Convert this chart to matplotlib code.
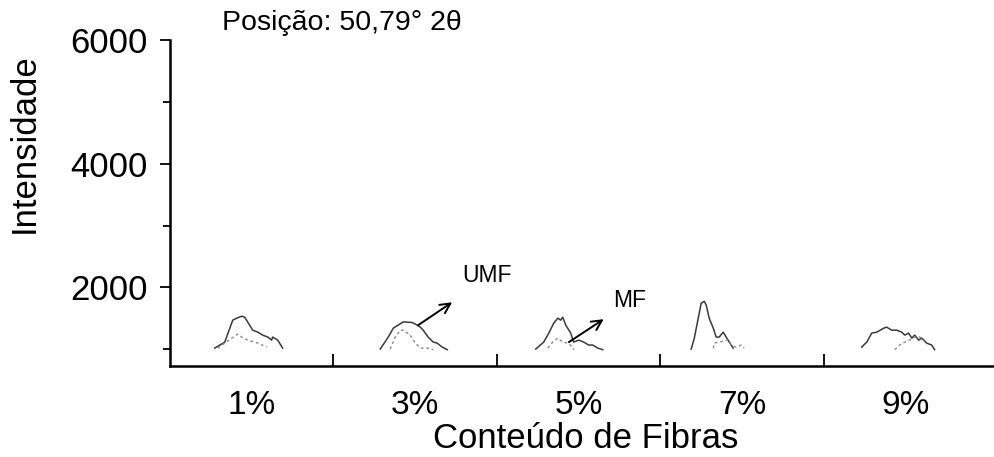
import matplotlib.pyplot as plt

plt.rcParams["font.family"] = ["Liberation Sans", "DejaVu Sans"]

categories = ["1%", "3%", "5%", "7%", "9%"]

# solid profiles (UMF): offset inside each category slot, intensity
umf_offsets = [
    [-0.226, -0.165, -0.134, -0.116, -0.092, -0.061, -0.043, -0.024, 0.006, 0.037, 0.067, 0.098, 0.122, 0.128, 0.159, 0.189],
    [-0.214, -0.165, -0.134, -0.073, -0.018, 0.012, 0.031, 0.049, 0.079, 0.110, 0.134, 0.165, 0.196],
    [-0.263, -0.214, -0.183, -0.153, -0.128, -0.110, -0.098, -0.079, -0.049, -0.031, 0.000, 0.031, 0.061, 0.086, 0.116, 0.147],
    [-0.312, -0.293, -0.269, -0.251, -0.232, -0.220, -0.202, -0.177, -0.159, -0.141, -0.116, -0.098, -0.079, -0.055],
    [-0.269, -0.238, -0.208, -0.177, -0.134, -0.116, -0.086, -0.055, -0.024, -0.006, 0.018, 0.037, 0.055, 0.079, 0.098, 0.128, 0.159, 0.177],
]
umf_intensity = [
    [1016, 1113, 1339, 1468, 1500, 1532, 1516, 1435, 1306, 1274, 1226, 1194, 1145, 1194, 1145, 1016],
    [1000, 1194, 1339, 1440, 1430, 1387, 1355, 1306, 1194, 1113, 1097, 1032, 990],
    [1000, 1113, 1258, 1419, 1500, 1468, 1516, 1387, 1258, 1113, 1145, 1113, 1065, 1065, 1016, 990],
    [1000, 1177, 1500, 1742, 1774, 1710, 1500, 1339, 1194, 1194, 1274, 1194, 1113, 1016],
    [1032, 1113, 1258, 1274, 1339, 1355, 1306, 1306, 1274, 1226, 1258, 1177, 1226, 1145, 1177, 1097, 1065, 990],
]

# dashed profiles (MF)
mf_offsets = [
    [-0.208, -0.165, -0.122, -0.086, -0.061, -0.024, 0.037, 0.092],
    [-0.153, -0.122, -0.092, -0.073, -0.031, 0.000, 0.031, 0.073, 0.110],
    [-0.189, -0.159, -0.128, -0.098, -0.067, -0.037, -0.031],
    [-0.177, -0.171, -0.086, -0.067, -0.037, -0.006, 0.012],
    [-0.067, -0.037, -0.006, 0.024, 0.055, 0.086, 0.116],
]
mf_intensity = [
    [1016, 1097, 1177, 1242, 1194, 1145, 1097, 1032],
    [1000, 1194, 1306, 1306, 1226, 1097, 1016, 1016, 990],
    [1016, 1113, 1177, 1113, 1097, 1032, 990],
    [1016, 1097, 1145, 1065, 1032, 1065, 1016],
    [990, 1065, 1113, 1145, 1194, 1194, 1145],
]

fig = plt.figure(figsize=(9.94, 4.57), dpi=100)
ax = fig.add_axes([0.171, 0.199, 0.829, 0.713])

for i in range(len(categories)):
    ax.plot([i + o for o in umf_offsets[i]], umf_intensity[i], color="#3a3a3a", lw=1.1)
    ax.plot([i + o for o in mf_offsets[i]], mf_intensity[i], color="#8a8a8a", lw=1.0, ls=(0, (2, 2)))

# arrows
ax.annotate("", xy=(1.226, 1758), xytext=(1.018, 1387),
            arrowprops=dict(arrowstyle="->", lw=1.4, color="black", mutation_scale=18, shrinkA=0, shrinkB=0))
ax.text(1.287, 2190, "UMF", fontsize=16.5, va="center", ha="left")
ax.annotate("", xy=(2.153, 1484), xytext=(1.94, 1113),
            arrowprops=dict(arrowstyle="->", lw=1.4, color="black", mutation_scale=18, shrinkA=0, shrinkB=0))
ax.text(2.208, 1790, "MF", fontsize=16.5, va="center", ha="left")

ax.text(-0.18, 6280, "Posição: 50,79° 2θ", fontsize=20.5, va="center", ha="left", clip_on=False)

ax.set_xlim(-0.5, 4.54)
ax.set_ylim(725, 6000)

ax.spines["top"].set_visible(False)
ax.spines["right"].set_visible(False)
ax.spines["left"].set_linewidth(1.8)
ax.spines["bottom"].set_linewidth(1.8)

ax.set_yticks([2000, 4000, 6000])
ax.set_yticks([1000, 3000, 5000], minor=True)
ax.tick_params(axis="y", which="major", direction="out", length=7, width=1.3, labelsize=25, pad=9)
ax.tick_params(axis="y", which="minor", direction="out", length=5, width=1.3)

ax.set_xticks([0.5, 1.5, 2.5, 3.5])
ax.set_xticklabels([])
ax.set_xticks(range(len(categories)), minor=True)
ax.set_xticklabels(categories, minor=True)
ax.tick_params(axis="x", which="major", direction="in", length=9, width=1.3)
ax.tick_params(axis="x", which="minor", length=0, labelsize=24, pad=17)

ax.set_ylabel("Intensidade", fontsize=25, va="center")
ax.yaxis.set_label_coords(-0.177, 0.684)
ax.set_xlabel("Conteúdo de Fibras", fontsize=25, va="center")
ax.xaxis.set_label_coords(0.505, -0.222)

fig.savefig("out.png", dpi=100, facecolor="white")
